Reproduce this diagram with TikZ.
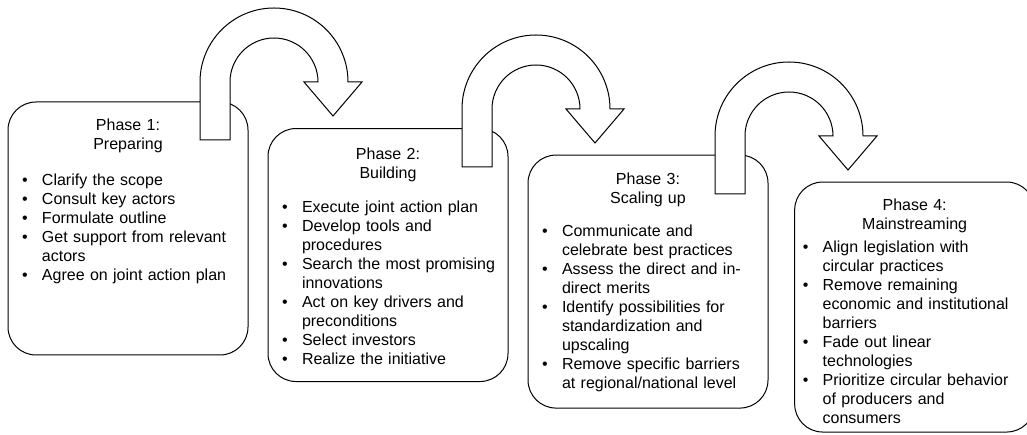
\documentclass[tikz,border=0pt]{standalone}
\usepackage{fontspec}
\setmainfont{Liberation Sans}
\usepackage{enumitem}
\usetikzlibrary{positioning}
\setlist[itemize]{label=\textbullet, leftmargin=19.5pt, labelsep=10.65pt, itemsep=0pt, parsep=0pt, topsep=0pt, partopsep=0pt}
\newcommand{\phasehead}[2]{{\centering #1\\#2\par}}

\begin{document}
\begin{tikzpicture}[x=0.75pt, y=0.75pt, node distance=195pt, font=\fontsize{12}{14.25}\selectfont]
    % Define styles
    \tikzstyle{phase} = [rectangle, draw, rounded corners=21pt, minimum width=180pt, minimum height=189.75pt, line width=0.75pt]
    \tikzstyle{phasetext} = [text width=168pt, inner sep=0pt, align=left]
    \tikzstyle{uturn} = [draw, fill=white, line width=0.75pt, line join=miter]

    \clip (0,0) rectangle (1027,435);

    % Phase boxes
    \node [phase] (p1) at (128,206.5) {};
    \node [phase, right of=p1, yshift=-19.9pt] (p2) {};
    \node [phase, right of=p2, yshift=-19.9pt] (p3) {};
    \node [phase, right of=p3, xshift=5pt, yshift=-19.1pt, minimum height=187.5pt] (p4) {};

    % Texts
    \node [phasetext, below=13pt of p1.north] (t1) {\phasehead{Phase 1:}{Preparing}\vspace{12.75pt}
        \begin{itemize}
        \item Clarify the scope
        \item Consult key actors
        \item Formulate outline
        \item Get support from relevant\newline actors
        \item Agree on joint action plan
        \end{itemize}};
    \node [phasetext, below=14.5pt of p2.north] (t2) {\phasehead{Phase 2:}{Building}\vspace{11.25pt}
        \begin{itemize}
        \item Execute joint action plan
        \item Develop tools and\newline procedures
        \item Search the most promising\newline innovations
        \item Act on key drivers and\newline preconditions
        \item Select investors
        \item Realize the initiative
        \end{itemize}};
    \node [phasetext, below=13.75pt of p3.north] (t3) {\phasehead{Phase 3:}{Scaling up}\vspace{10.5pt}
        \begin{itemize}
        \item Communicate and\newline celebrate best practices
        \item Assess the direct and in-\newline direct merits
        \item Identify possibilities for\newline standardization and\newline upscaling
        \item Remove specific barriers\newline at regional/national level
        \end{itemize}};
    \node [phasetext, below=13pt of p4.north] (t4) {\phasehead{Phase 4:}{Mainstreaming}\vspace{3pt}
        \begin{itemize}[leftmargin=15pt]
        \item Align legislation with\newline circular practices
        \item Remove remaining\newline economic and institutional\newline barriers
        \item Fade out linear\newline technologies
        \item Prioritize circular behavior\newline of producers and\newline consumers
        \end{itemize}};

    % Arrows
    \coordinate (a1) at (200,295);
    \coordinate (a2) at (462,268);
    \coordinate (a3) at (715,241);
    \foreach \a in {a1,a2,a3}
        \draw [uturn] (\a) -- ++(0,58) arc[start angle=180, end angle=0, radius=74] -- ++(14,0) -- ++(-29,-34) -- ++(-29,34) -- ++(14,0) arc[start angle=0, end angle=180, radius=44] -- ++(0,-58) -- cycle;
\end{tikzpicture}
\end{document}
